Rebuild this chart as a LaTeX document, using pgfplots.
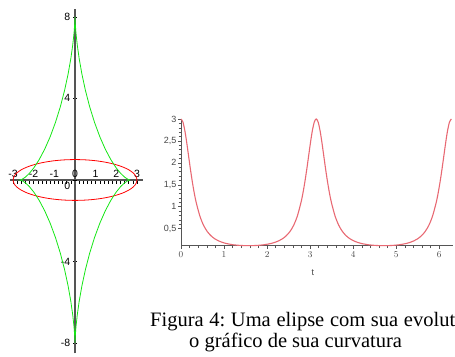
\documentclass[border=0pt]{standalone}
\usepackage{fontspec}
\setmainfont{Liberation Serif}
\setsansfont{Liberation Sans}
\usepackage{pgfplots}
\pgfplotsset{compat=1.18}
\definecolor{ellred}{RGB}{255,0,0}
\definecolor{evgreen}{RGB}{20,230,20}
\definecolor{kapred}{RGB}{232,105,115}
\definecolor{axgray}{RGB}{85,85,85}
\definecolor{lblgray}{RGB}{70,70,70}
\frenchspacing
\begin{document}
\begin{tikzpicture}[x=1pt,y=1pt]
\path[use as bounding box,clip] (0,0) rectangle (455,356);

\begin{axis}[
  at={(9.9pt,2.6pt)}, anchor=south west,
  scale only axis, width=133.3pt, height=344.8pt,
  xmin=-3.15, xmax=3.3, ymin=-8.5, ymax=8.4,
  clip=false,
  axis lines=middle,
  axis line style={axgray, line width=1.1pt, -},
  hide obscured x ticks=false, hide obscured y ticks=false,
  xtick={-3,-2,-1,0,1,2,3},
  xticklabels={-3,-2,-1,0,1,2,3},
  minor x tick num=4,
  ytick={-8,-4,4,8},
  yticklabels={-8,-4,4,8},
  extra y ticks={0}, extra y tick labels={0},
  extra y tick style={yticklabel style={yshift=-6pt}},
  minor y tick num=3,
  major tick length=4pt, minor tick length=4pt,
  every tick/.style={black, line width=0.5pt},
  x tick style={yshift=-2pt},
  tick label style={font=\fontsize{10.5}{12}\selectfont\sffamily, inner sep=1.5pt},
  xticklabel style={anchor=south, yshift=3pt},
  yticklabel style={anchor=east, xshift=-1pt},
]
\addplot[ellred, line width=0.8pt, smooth] coordinates {
(3,0) (2.954,0.174) (2.819,0.342) (2.598,0.5) (2.298,0.643) (1.928,0.766) (1.5,0.866) (1.026,0.940) (0.521,0.985) (0,1)
(-0.521,0.985) (-1.026,0.940) (-1.5,0.866) (-1.928,0.766) (-2.298,0.643) (-2.598,0.5) (-2.819,0.342) (-2.954,0.174) (-3,0)
(-2.954,-0.174) (-2.819,-0.342) (-2.598,-0.5) (-2.298,-0.643) (-1.928,-0.766) (-1.5,-0.866) (-1.026,-0.940) (-0.521,-0.985) (0,-1)
(0.521,-0.985) (1.026,-0.940) (1.5,-0.866) (1.928,-0.766) (2.298,-0.643) (2.598,-0.5) (2.819,-0.342) (2.954,-0.174) (3,0)
};
\addplot[evgreen, line width=0.8pt] coordinates {
(2.667,0) (2.636,0.005) (2.547,0.042) (2.403,0.139) (2.213,0.320) (1.985,0.604) (1.732,1.0) (1.466,1.510) (1.199,2.125) (0.943,2.828) (0.708,3.596) (0.503,4.397) (0.333,5.196) (0.201,5.956) (0.107,6.638) (0.046,7.210) (0.014,7.641) (0.002,7.909) (0,8)
(-0.002,7.909) (-0.014,7.641) (-0.046,7.210) (-0.107,6.638) (-0.201,5.956) (-0.333,5.196) (-0.503,4.397) (-0.708,3.596) (-0.943,2.828) (-1.199,2.125) (-1.466,1.510) (-1.732,1.0) (-1.985,0.604) (-2.213,0.320) (-2.403,0.139) (-2.547,0.042) (-2.636,0.005) (-2.667,0)
(-2.636,-0.005) (-2.547,-0.042) (-2.403,-0.139) (-2.213,-0.320) (-1.985,-0.604) (-1.732,-1.0) (-1.466,-1.510) (-1.199,-2.125) (-0.943,-2.828) (-0.708,-3.596) (-0.503,-4.397) (-0.333,-5.196) (-0.201,-5.956) (-0.107,-6.638) (-0.046,-7.210) (-0.014,-7.641) (-0.002,-7.909) (0,-8)
(0.002,-7.909) (0.014,-7.641) (0.046,-7.210) (0.107,-6.638) (0.201,-5.956) (0.333,-5.196) (0.503,-4.397) (0.708,-3.596) (0.943,-2.828) (1.199,-2.125) (1.466,-1.510) (1.732,-1.0) (1.985,-0.604) (2.213,-0.320) (2.403,-0.139) (2.547,-0.042) (2.636,-0.005) (2.667,0)
};
\end{axis}

\begin{axis}[
  at={(181pt,110.3pt)}, anchor=south west,
  scale only axis, width=272pt, height=126.7pt,
  xmin=0, xmax=6.32, ymin=0.111, ymax=3.0,
  clip=false,
  axis x line*=bottom, axis y line*=left,
  axis line style={axgray, line width=0.7pt},
  xtick={0,1,2,3,4,5,6},
  minor x tick num=4,
  ytick={0.5,1,1.5,2,2.5,3},
  yticklabels={{0,5},1,{1,5},2,{2,5},3},
  minor y tick num=4,
  tick align=outside,
  major tick length=3pt, minor tick length=2.5pt,
  every tick/.style={axgray, line width=0.5pt},
  tick label style={font=\fontsize{9}{10}\selectfont\sffamily, text=lblgray, inner sep=1.5pt},
  xticklabel style={yshift=-1pt},
  xlabel={t},
  xlabel style={font=\fontsize{9}{10}\selectfont\sffamily, text=lblgray, at={(axis description cs:0.485,0)}, anchor=north, yshift=-20pt},
]
\addplot[kapred, line width=1.1pt, smooth] table {
0 3.000
0.04363 2.933
0.08727 2.746
0.13090 2.477
0.17453 2.169
0.21817 1.861
0.26180 1.576
0.30543 1.326
0.34907 1.114
0.43633 0.793
0.52360 0.577
0.61087 0.433
0.69813 0.336
0.78540 0.268
0.87266 0.221
0.95993 0.187
1.04720 0.162
1.22173 0.131
1.39626 0.116
1.57080 0.111
1.74533 0.116
1.91986 0.131
2.09440 0.162
2.18166 0.187
2.26893 0.221
2.35619 0.268
2.44346 0.336
2.53073 0.433
2.61799 0.577
2.70526 0.793
2.79253 1.114
2.83616 1.326
2.87979 1.576
2.92343 1.861
2.96706 2.169
3.01069 2.477
3.05433 2.746
3.09796 2.933
3.14159 3.000
3.18523 2.933
3.22886 2.746
3.27249 2.477
3.31613 2.169
3.35976 1.861
3.40339 1.576
3.44703 1.326
3.49066 1.114
3.57792 0.793
3.66519 0.577
3.75246 0.433
3.83972 0.336
3.92699 0.268
4.01426 0.221
4.10152 0.187
4.18879 0.162
4.36332 0.131
4.53786 0.116
4.71239 0.111
4.88692 0.116
5.06145 0.131
5.23599 0.162
5.32325 0.187
5.41052 0.221
5.49779 0.268
5.58505 0.336
5.67232 0.433
5.75959 0.577
5.84685 0.793
5.93412 1.114
5.97775 1.326
6.02139 1.576
6.06502 1.861
6.10865 2.169
6.15229 2.477
6.19592 2.746
6.23955 2.933
6.28319 3.000
};
\end{axis}

\node[anchor=base west, inner sep=0pt, font=\fontsize{20.5}{22}\selectfont] at (150,30) {\makebox[305pt][s]{Figura 4: Uma elipse com sua evolut}a e};
\node[anchor=base west, inner sep=0pt, font=\fontsize{20.5}{22}\selectfont] at (189,9) {o gráfico de sua curvatura};
\end{tikzpicture}
\end{document}
